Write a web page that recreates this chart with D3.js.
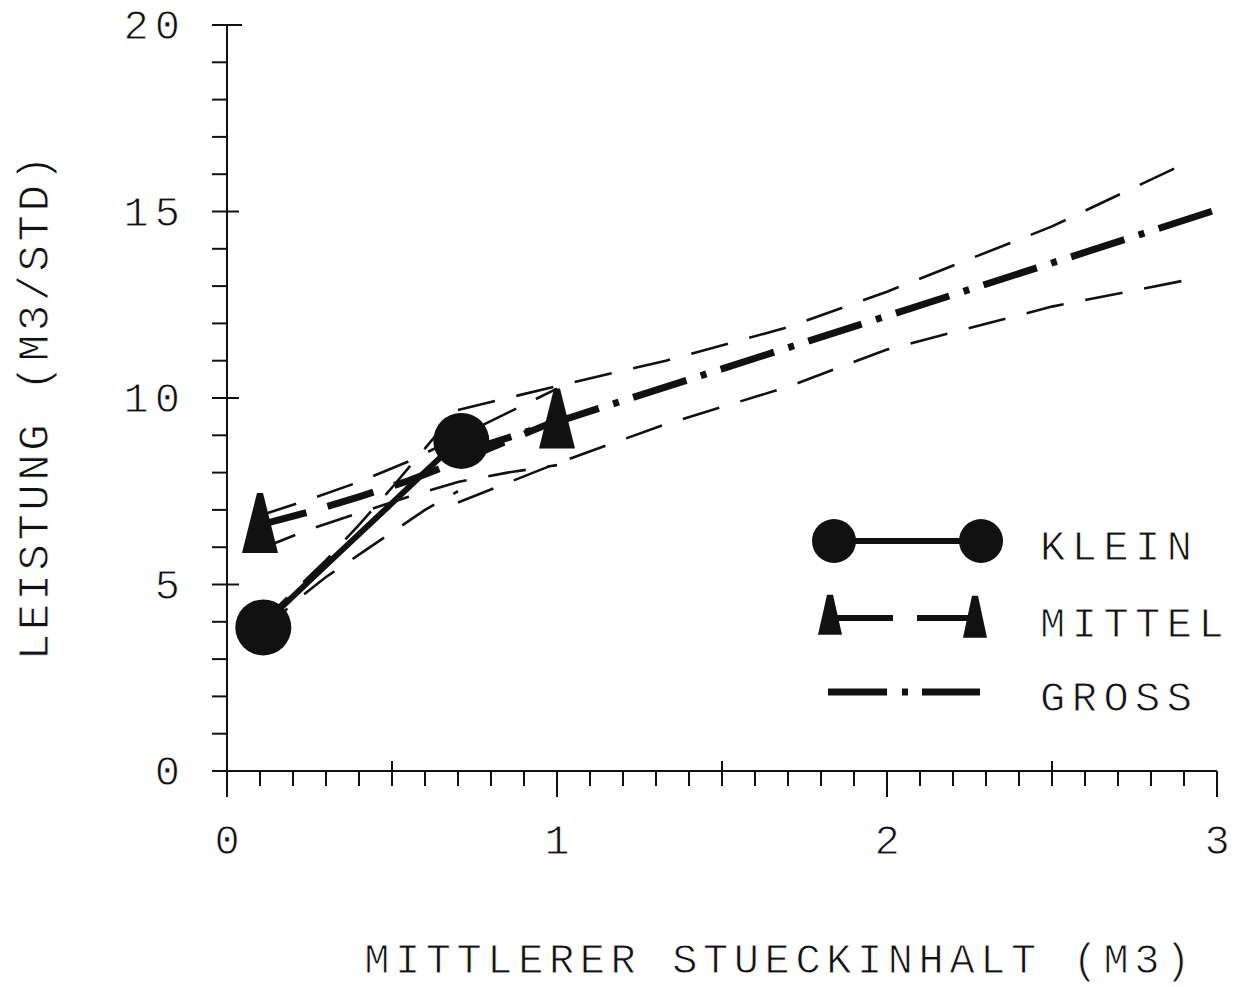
<!DOCTYPE html>
<html>
<head>
<meta charset="utf-8">
<script src="https://cdn.jsdelivr.net/npm/d3@7"></script>
<style>
  html, body { margin: 0; padding: 0; background: #fff; }
  svg { display: block; }
  text { font-family: "Liberation Mono", "DejaVu Sans Mono", monospace; fill: #111;
         stroke: #fff; stroke-width: 0.9px; paint-order: fill; }
</style>
</head>
<body>
<svg id="chart" width="1238" height="987"></svg>
<script>
// Leistung vs. mittlerer Stueckinhalt - three size classes with bands

const yTicks = [0, 5, 10, 15, 20];
const xTicks = [0, 1, 2, 3];

// KLEIN (solid, circles)
const kleinX = [0.1, 0.2, 0.3, 0.4, 0.5, 0.6, 0.7];
const kleinY = [3.85, 4.68, 5.52, 6.35, 7.18, 8.02, 8.85];
const kleinUp = [3.95, 4.8, 5.65, 6.6, 7.6, 8.65, 9.7];
const kleinLo = [3.65, 4.5, 5.2, 5.8, 6.4, 7.0, 7.5];
const kleinPtsX = [0.11, 0.71];
const kleinPtsY = [3.85, 8.85];

// MITTEL (dashed, triangles)
const mittelX = [0.1, 0.25, 0.4, 0.55, 0.7, 0.85, 1.0];
const mittelY = [6.6, 6.95, 7.35, 7.78, 8.3, 8.85, 9.4];
const mittelUp = [6.85, 7.28, 7.75, 8.3, 8.95, 9.6, 10.25];
const mittelLo = [5.95, 6.48, 6.92, 7.35, 7.75, 8.0, 8.2];
const mittelPtsX = [0.1, 1.0];
const mittelPtsY = [6.6, 9.4];

// GROSS (dash-dot, no markers)
const grossX = [0.7, 1.0, 1.5, 2.0, 2.5, 3.0];
const grossY = [8.5, 9.36, 10.78, 12.2, 13.62, 15.05];
const grossBandX = [0.7, 1.0, 1.33, 1.7, 2.0, 2.5, 2.93];
const grossUp = [9.68, 10.32, 11.0, 11.9, 12.85, 14.6, 16.4];
const grossLo = [7.2, 8.25, 9.3, 10.3, 11.3, 12.45, 13.2];

const legendNames = ['KLEIN', 'MITTEL', 'GROSS'];

const svg = d3.select('#chart');
const ink = '#111';

const x = d3.scaleLinear().domain([0, 3]).range([227, 1217]);
const y = d3.scaleLinear().domain([0, 20]).range([771, 25]);

// axes
const axes = svg.append('g').attr('stroke', ink).attr('stroke-width', 2).attr('fill', 'none');
axes.append('line').attr('x1', x(0)).attr('x2', x(0)).attr('y1', y(0)).attr('y2', y(20));
axes.append('line').attr('x1', x(0)).attr('x2', x(3)).attr('y1', y(0)).attr('y2', y(0));

// y ticks every 1, majors cross the axis
axes.selectAll('.yt').data(d3.range(0, 21)).enter().append('line')
  .attr('x1', d => x(0) - 15)
  .attr('x2', d => (d % 5 === 0 && d > 0) ? x(0) + (d === 20 ? 15 : 12) : x(0))
  .attr('y1', d => y(d)).attr('y2', d => y(d));

// x ticks every 0.1
axes.selectAll('.xt').data(d3.range(0, 31)).enter().append('line')
  .attr('x1', d => x(d / 10)).attr('x2', d => x(d / 10))
  .attr('y1', d => (d % 5 === 0 && d % 10 !== 0) ? y(0) - 10 : y(0))
  .attr('y2', d => d % 10 === 0 ? y(0) + 26 : y(0) + 15);

const fs = 42;
svg.selectAll('.ylab').data(yTicks).enter().append('text')
  .attr('x', 186).attr('y', d => y(d) + 14)
  .attr('text-anchor', 'end')
  .style('font-size', fs + 'px').style('letter-spacing', '6px')
  .text(d => d);

svg.selectAll('.xlab').data(xTicks).enter().append('text')
  .attr('x', d => x(d)).attr('y', 854)
  .attr('text-anchor', 'middle')
  .style('font-size', fs + 'px')
  .text(d => d);

svg.append('text')
  .attr('transform', 'translate(48,406) rotate(-90)')
  .attr('text-anchor', 'middle')
  .style('font-size', '44px').style('letter-spacing', '3.5px')
  .text('LEISTUNG (M3/STD)');

svg.append('text')
  .attr('x', 780).attr('y', 973)
  .attr('text-anchor', 'middle')
  .style('font-size', '42px').style('letter-spacing', '5.6px')
  .text('MITTLERER STUECKINHALT (M3)');

// lines
const line = (xs, ys) => d3.line().x((d, i) => x(xs[i])).y(d => y(d))(ys);
const plot = svg.append('g').attr('fill', 'none').attr('stroke', ink).attr('stroke-linecap', 'butt');

const bandDash = '38,22';
[[kleinX, kleinUp], [kleinX, kleinLo], [mittelX, mittelUp], [mittelX, mittelLo],
 [grossBandX, grossUp], [grossBandX, grossLo]].forEach(([xs, ys]) => {
  plot.append('path').attr('d', line(xs, ys))
    .attr('stroke-width', 2.6).attr('stroke-dasharray', bandDash);
});

plot.append('path').attr('d', line(kleinX, kleinY)).attr('stroke-width', 6);
plot.append('path').attr('d', line(mittelX, mittelY)).attr('stroke-width', 7)
  .attr('stroke-dasharray', '48,22');
plot.append('path').attr('d', line(grossX, grossY)).attr('stroke-width', 7)
  .attr('stroke-dasharray', '56,15,6,15');

// markers
const tri = (cx, cy, w, h) => {
  const t = cy - h * 0.53, b = cy + h * 0.47;
  return `M${cx - 3},${t} L${cx + 3},${t} L${cx + w / 2},${b} L${cx - w / 2},${b} Z`;
};
svg.selectAll('.kc').data(kleinPtsX).enter().append('circle')
  .attr('cx', d => x(d)).attr('cy', (d, i) => y(kleinPtsY[i])).attr('r', 28).attr('fill', ink);
svg.selectAll('.mt').data(mittelPtsX).enter().append('path')
  .attr('d', (d, i) => tri(x(d), y(mittelPtsY[i]), 36, 60)).attr('fill', ink);

// legend
const lg = svg.append('g');
const rowY = [541, 618, 692];
lg.append('line').attr('x1', 834).attr('x2', 981).attr('y1', rowY[0]).attr('y2', rowY[0])
  .attr('stroke', ink).attr('stroke-width', 6);
[834, 981].forEach(cx => lg.append('circle').attr('cx', cx).attr('cy', rowY[0]).attr('r', 22).attr('fill', ink));
lg.append('path').attr('d', `M837,${rowY[1]} L893,${rowY[1]} M917,${rowY[1]} L972,${rowY[1]}`)
  .attr('stroke', ink).attr('stroke-width', 6);
lg.append('path').attr('d', tri(830, 616, 24, 40)).attr('fill', ink);
lg.append('path').attr('d', tri(975, 618, 24, 42)).attr('fill', ink);
lg.append('path').attr('d', `M828,${rowY[2]} L887,${rowY[2]} M902,${rowY[2]} L908,${rowY[2]} M922,${rowY[2]} L980,${rowY[2]}`)
  .attr('stroke', ink).attr('stroke-width', 7);

lg.selectAll('.lt').data(legendNames).enter().append('text')
  .attr('x', 1040).attr('y', (d, i) => rowY[i] + 19)
  .style('font-size', fs + 'px').style('letter-spacing', '6.5px')
  .text(d => d);
</script>
</body>
</html>
